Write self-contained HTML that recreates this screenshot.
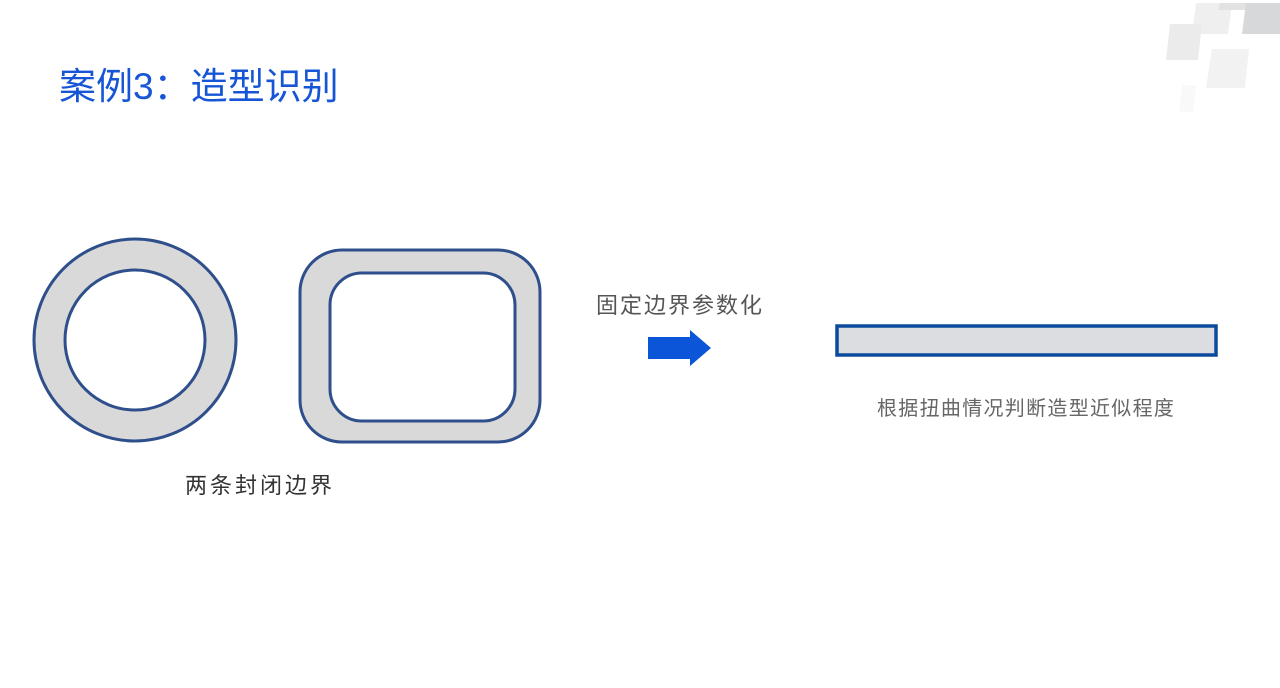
<!DOCTYPE html>
<html><head><meta charset="utf-8"><style>
body{margin:0;width:1280px;height:688px;background:#fff;overflow:hidden;position:relative;font-family:"Liberation Sans","Noto Sans CJK SC",sans-serif}
.t{position:absolute;white-space:nowrap}
</style></head><body>
<svg width="1280" height="688" style="position:absolute;left:0;top:0">
<polygon points="1196,3 1232,3 1228,34 1192,34" fill="#efefef"/>
<polygon points="1220,3 1250,3 1248,10 1218,10" fill="#e2e2e2"/>
<polygon points="1246,3 1280,3 1280,34 1242,34" fill="#d6d8da"/>
<polygon points="1170,24 1202,24 1198,60 1166,60" fill="#ebebeb"/>
<polygon points="1212,49 1249,49 1245,88 1206,88" fill="#f2f2f2"/>
<polygon points="1182,85 1196,85 1193,112 1179,112" fill="#f9f9f9"/>
<circle cx="135" cy="340" r="101" fill="#d9d9d9" stroke="#2f4f8c" stroke-width="3"/>
<circle cx="135" cy="340" r="70" fill="#fff" stroke="#2f4f8c" stroke-width="3"/>
<rect x="300" y="250" width="240" height="192" rx="42" fill="#d9d9d9" stroke="#2f4f8c" stroke-width="3"/>
<rect x="330" y="273" width="185" height="148" rx="32" fill="#fff" stroke="#2f4f8c" stroke-width="3"/>
<polygon points="648,337 690,337 690,330 711,348 690,366 690,359 648,359" fill="#0a55d8"/>
<rect x="837" y="326" width="379" height="29" fill="#dcdde1" stroke="#0b4a9c" stroke-width="3.5"/>
</svg>
<div class="t" style="left:59px;top:56px;font-size:37px;color:#1655d6">案例3：造型识别</div>
<div class="t" style="left:596px;top:288px;font-size:22px;letter-spacing:2px;color:#555">固定边界参数化</div>
<div class="t" style="left:185px;top:468px;font-size:22px;letter-spacing:3px;color:#333">两条封闭边界</div>
<div class="t" style="left:877px;top:392px;font-size:20px;letter-spacing:1.3px;color:#666">根据扭曲情况判断造型近似程度</div>
</body></html>
